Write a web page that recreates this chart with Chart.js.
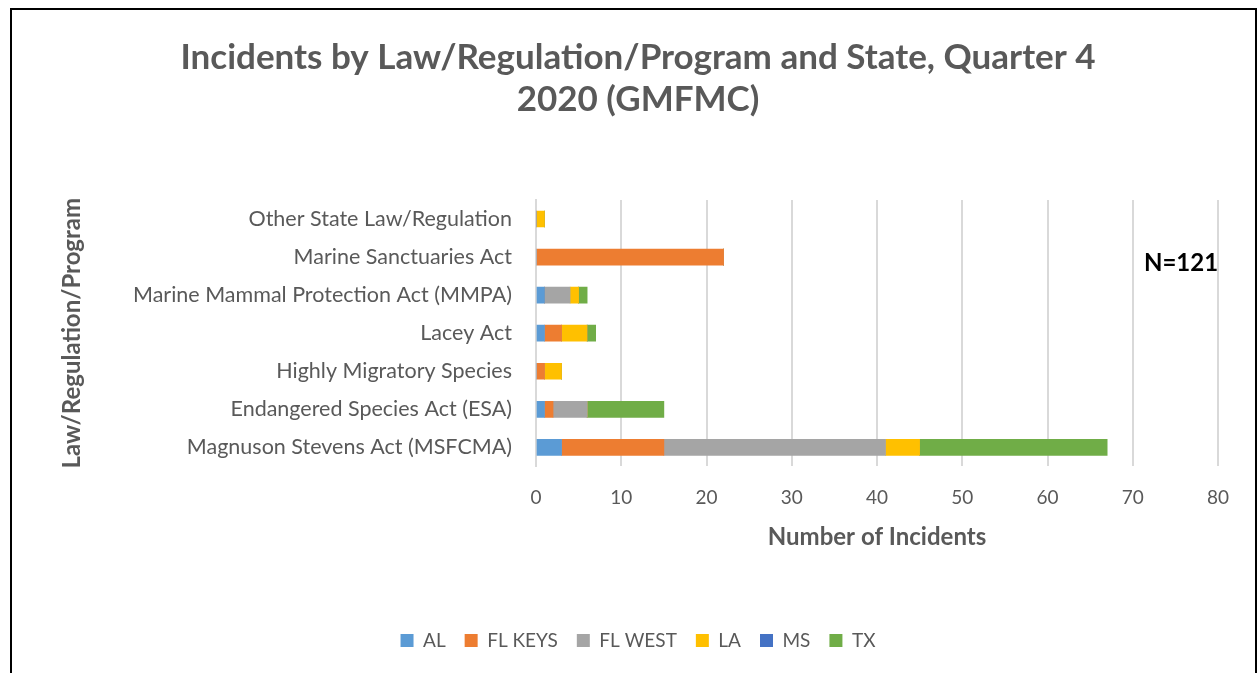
<!DOCTYPE html>
<html>
<head>
<meta charset="utf-8">
<script src="https://cdn.jsdelivr.net/npm/chart.js@4.4.0/dist/chart.umd.min.js"></script>
<style>
  html, body { margin: 0; padding: 0; background: #fff; }
  #frame { position: absolute; left: 10px; top: 8px; width: 1243px; height: 700px; border: 2px solid #000; border-bottom: none; }
  #wrap { position: absolute; left: 0; top: 0; width: 1257px; height: 673px; }
</style>
</head>
<body>
<div id="frame"></div>
<div id="wrap"><canvas id="incidents"></canvas></div>
<script>
// categories, top to bottom
var programs = [
    'Other State Law/Regulation',
    'Marine Sanctuaries Act',
    'Marine Mammal Protection Act (MMPA)',
    'Lacey Act',
    'Highly Migratory Species',
    'Endangered Species Act (ESA)',
    'Magnuson Stevens Act (MSFCMA)'
];
var states = ['AL', 'FL KEYS', 'FL WEST', 'LA', 'MS', 'TX'];
var alVals     = [0, 0, 1, 1, 0, 1, 3];
var flKeysVals = [0, 22, 0, 2, 1, 1, 12];
var flWestVals = [0, 0, 3, 0, 0, 4, 26];
var laVals     = [1, 0, 1, 3, 2, 0, 4];
var msVals     = [0, 0, 0, 0, 0, 0, 0];
var txVals     = [0, 0, 1, 1, 0, 9, 22];
var stateColors = ['#5b9bd5', '#ed7d31', '#a5a5a5', '#ffc000', '#4472c4', '#70ad47'];
var xTicks = [0, 10, 20, 30, 40, 50, 60, 70, 80];
var totalN = 'N=121';

var seriesVals = [alVals, flKeysVals, flWestVals, laVals, msVals, txVals];
var datasets = states.map(function (s, i) {
    return {
        label: s,
        data: seriesVals[i],
        backgroundColor: stateColors[i],
        barThickness: 16
    };
});

var fontFam = 'Lato, "Open Sans", sans-serif';
var grey = '#595959';

var nLabel = {
    id: 'nLabel',
    afterDraw: function (chart) {
        var ctx = chart.ctx;
        ctx.save();
        ctx.font = 'bold 24px ' + fontFam;
        ctx.fillStyle = '#000';
        ctx.textAlign = 'center';
        ctx.textBaseline = 'middle';
        ctx.fillText(totalN, 1181, 263);
        ctx.restore();
    }
};

var ctx = document.getElementById('incidents').getContext('2d');
var chart = new Chart(ctx, {
    type: 'bar',
    data: { labels: programs, datasets: datasets },
    plugins: [nLabel],
    options: {
        indexAxis: 'y',
        responsive: true,
        maintainAspectRatio: false,
        animation: false,
        layout: { padding: { left: 58, right: 39, top: 37, bottom: 13 } },
        plugins: {
            title: {
                display: true,
                text: ['Incidents by Law/Regulation/Program and State, Quarter 4', '2020 (GMFMC)'],
                color: grey,
                font: { family: fontFam, size: 35, weight: 'bold' },
                lineHeight: 1.29,
                padding: { top: 0, bottom: 79 }
            },
            legend: {
                position: 'bottom',
                labels: {
                    color: grey,
                    font: { family: fontFam, size: 19 },
                    boxWidth: 13,
                    boxHeight: 13,
                    padding: 19
                }
            },
            tooltip: { enabled: false }
        },
        scales: {
            x: {
                stacked: true,
                min: 0,
                max: 80,
                afterBuildTicks: function (scale) {
                    scale.ticks = xTicks.map(function (v) { return { value: v }; });
                },
                grid: { color: '#d9d9d9', lineWidth: 2, drawTicks: false },
                border: { display: false },
                ticks: { color: grey, font: { family: fontFam, size: 19 }, padding: 20 },
                title: {
                    display: true,
                    text: 'Number of Incidents',
                    color: grey,
                    font: { family: fontFam, size: 24, weight: 'bold' },
                    padding: { top: -6, bottom: 60 }
                }
            },
            y: {
                stacked: true,
                afterFit: function (scale) { scale.width = 536 - 58; },
                grid: { display: false },
                border: { color: '#d9d9d9', width: 2 },
                ticks: { color: grey, font: { family: fontFam, size: 21.5 }, padding: 16 },
                title: {
                    display: true,
                    text: 'Law/Regulation/Program',
                    color: grey,
                    font: { family: fontFam, size: 24, weight: 'bold' },
                    padding: 0
                }
            }
        }
    }
});
</script>
</body>
</html>
